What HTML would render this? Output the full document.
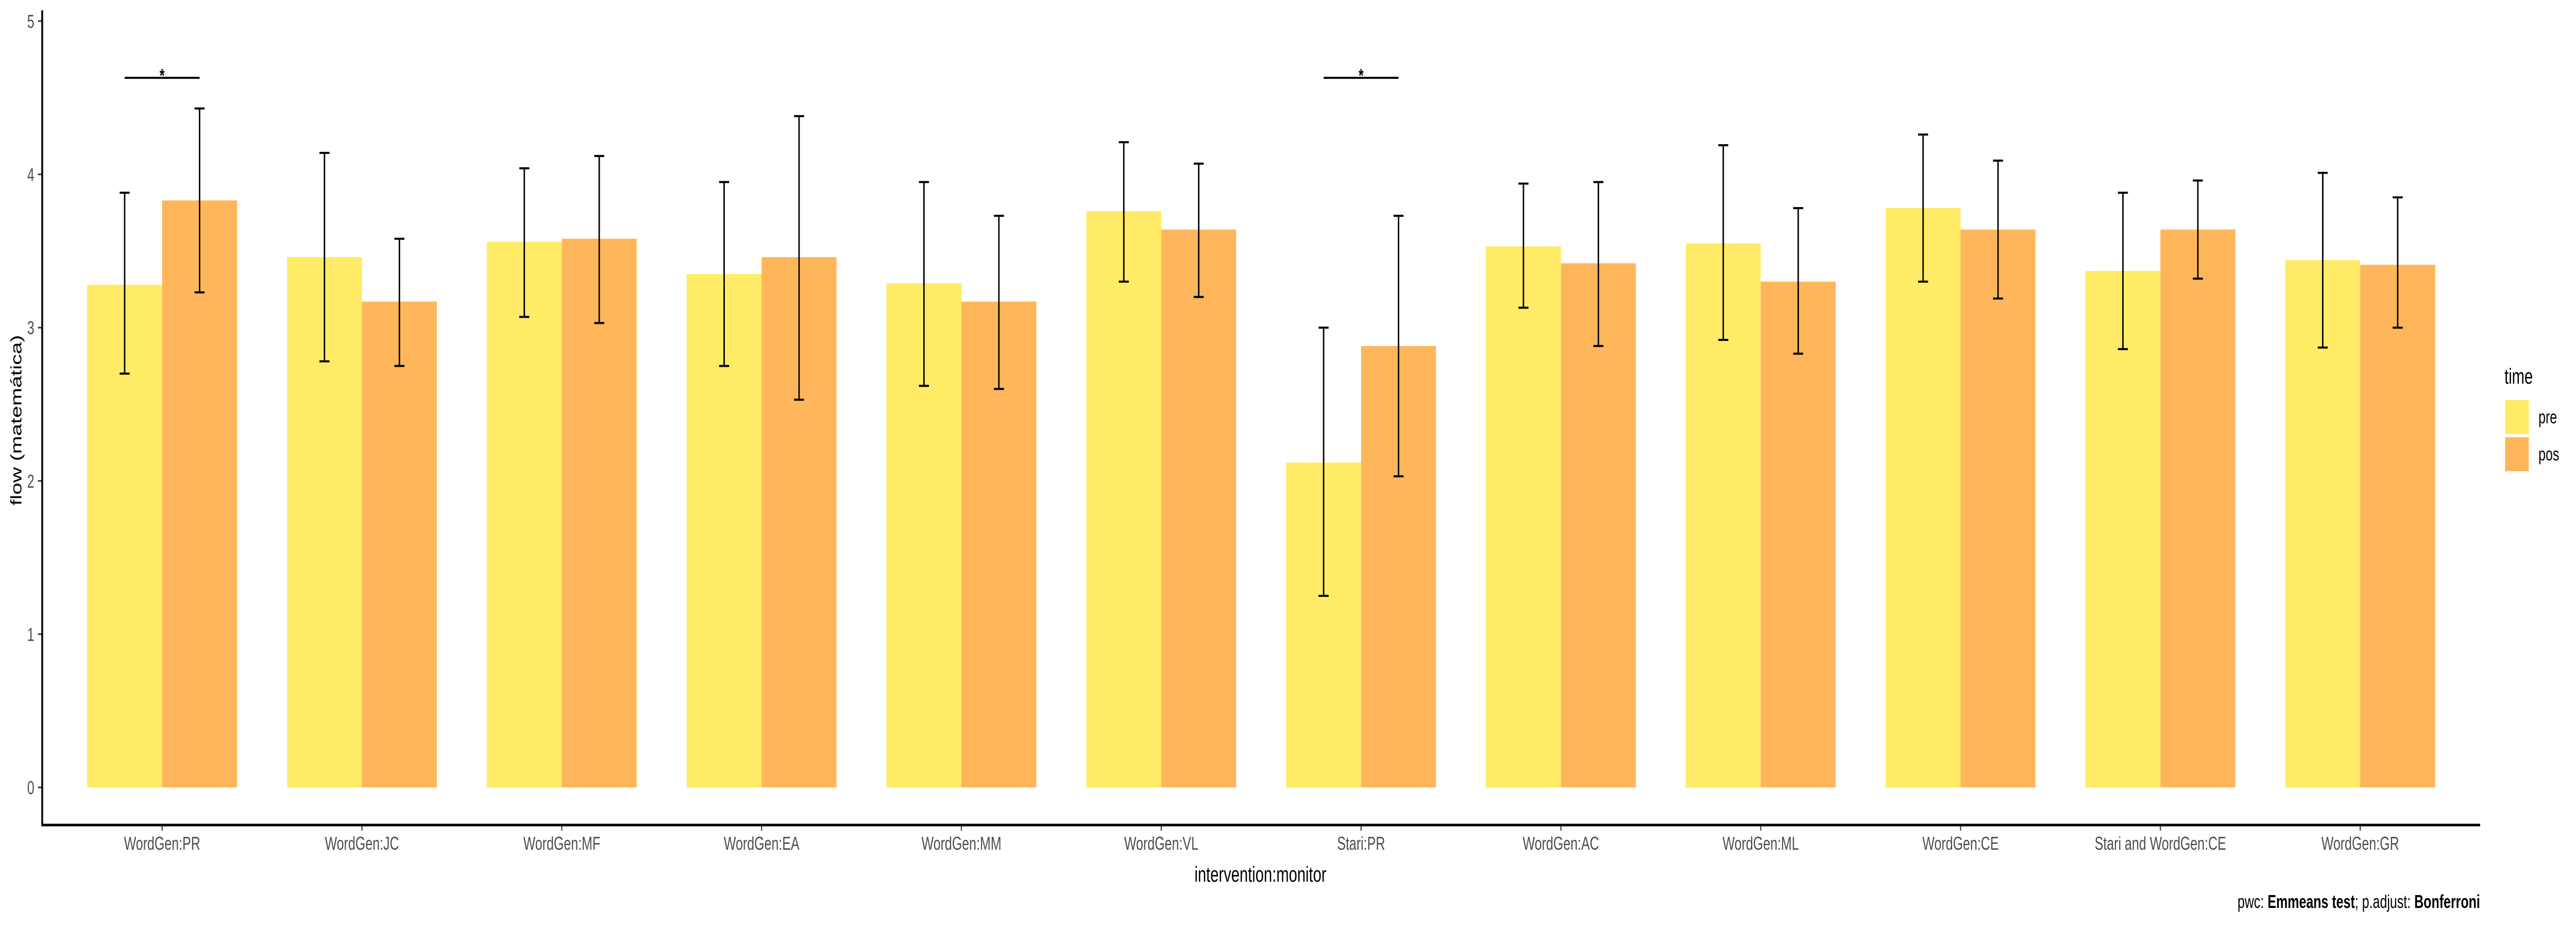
<!DOCTYPE html>
<html><head><meta charset="utf-8"><style>
html,body{margin:0;padding:0;background:#fff;width:100%;height:100%;overflow:hidden}
svg{display:block;font-family:"Liberation Sans",sans-serif;width:100vw;height:100vh}
</style></head><body>
<svg id="chart" viewBox="0 0 7200 1800" preserveAspectRatio="none" xmlns="http://www.w3.org/2000/svg">
<rect width="7200" height="1800" fill="#fff"/>
<g id="bars"></g>
<g id="errs"></g>
<g id="sig"></g>
<g id="axes"></g>
<text x="0" y="0" transform="translate(60,816) rotate(-90)" text-anchor="middle" font-size="42" fill="#000">flow (matemática)</text>
<text x="3523" y="1712" text-anchor="middle" font-size="42" fill="#000">intervention:monitor</text>
<g>
<text x="7000" y="745" font-size="42" fill="#000">time</text>
<rect x="7002" y="777" width="66" height="66" fill="#FFEB66"/>
<rect x="7002" y="849" width="66" height="66" fill="#FFB65A"/>
<text x="7095" y="822" font-size="36" fill="#000">pre</text>
<text x="7095" y="894" font-size="36" fill="#000">pos</text>
</g>
<text x="6932" y="1763" text-anchor="end" font-size="36" fill="#000">pwc: <tspan font-weight="bold">Emmeans test</tspan>; p.adjust: <tspan font-weight="bold">Bonferroni</tspan></text>
</svg>
<script>
const categories = ["WordGen:PR","WordGen:JC","WordGen:MF","WordGen:EA","WordGen:MM","WordGen:VL","Stari:PR","WordGen:AC","WordGen:ML","WordGen:CE","Stari and WordGen:CE","WordGen:GR"];
const preValues = [3.28,3.46,3.56,3.35,3.29,3.76,2.12,3.53,3.55,3.78,3.37,3.44];
const preLow    = [2.70,2.78,3.07,2.75,2.62,3.30,1.25,3.13,2.92,3.30,2.86,2.87];
const preHigh   = [3.88,4.14,4.04,3.95,3.95,4.21,3.00,3.94,4.19,4.26,3.88,4.01];
const posValues = [3.83,3.17,3.58,3.46,3.17,3.64,2.88,3.42,3.30,3.64,3.64,3.41];
const posLow    = [3.23,2.75,3.03,2.53,2.60,3.20,2.03,2.88,2.83,3.19,3.32,3.00];
const posHigh   = [4.43,3.58,4.12,4.38,3.73,4.07,3.73,3.95,3.78,4.09,3.96,3.85];
const yTicks = [0,1,2,3,4,5];
const sigCategories = [0,6];
const sigLevel = 4.63;

const NS="http://www.w3.org/2000/svg";
const PL=118, PR=6932, AXY=1602;
const unit=(PR-PL)/(categories.length-1+1.2);
function xScale(i){return PL+(i+0.6)*unit;}
function yScale(v){return 1529-v*297.6;}
const bw=0.375*unit;
function mk(tag,attrs,parent){const e=document.createElementNS(NS,tag);for(const k in attrs)e.setAttribute(k,attrs[k]);parent.appendChild(e);return e;}
const gB=document.getElementById('bars'),gE=document.getElementById('errs'),gS=document.getElementById('sig'),gA=document.getElementById('axes');
const series=[{v:preValues,lo:preLow,hi:preHigh,c:"#FFEB66",n:"pre",off:-1},{v:posValues,lo:posLow,hi:posHigh,c:"#FFB65A",n:"pos",off:0}];
categories.forEach((cat,i)=>{
  const cx=xScale(i);
  series.forEach(s=>{
    const x=cx+s.off*bw, y=yScale(s.v[i]);
    const r=mk('rect',{x:x,y:y,width:bw,height:yScale(0)-y,fill:s.c},gB);
    
    
    const ex=x+bw/2, y1=yScale(s.hi[i]), y2=yScale(s.lo[i]);
    const g=mk('g',{stroke:"#000","stroke-width":4},gE);
    
    
    mk('line',{x1:ex,x2:ex,y1:y1,y2:y2},g);
    mk('line',{x1:ex-14,x2:ex+14,y1:y1,y2:y1},g);
    mk('line',{x1:ex-14,x2:ex+14,y1:y2,y2:y2},g);
  });
  const t=mk('line',{x1:cx,x2:cx,y1:AXY,y2:AXY+11,stroke:"#333","stroke-width":3},gA);
  
  
  const lb=mk('text',{x:cx,y:1650,"text-anchor":"middle","font-size":36,fill:"#4D4D4D"},gA);
  lb.textContent=cat;
  
  
});
sigCategories.forEach(i=>{
  const cx=xScale(i), y=yScale(sigLevel);
  const l=mk('line',{x1:cx-bw/2,x2:cx+bw/2,y1:y,y2:y,stroke:"#000","stroke-width":4},gS);
  
  
  const st=mk('text',{x:cx,y:y+8,"text-anchor":"middle","font-size":36,"font-weight":"bold",fill:"#000"},gS);
  st.textContent="*";
  
  
});
yTicks.forEach(v=>{
  const y=yScale(v);
  const t=mk('line',{x1:PL-12,x2:PL,y1:y,y2:y,stroke:"#333","stroke-width":3},gA);
  
  
  const lb=mk('text',{x:PL-22,y:y+13,"text-anchor":"end","font-size":36,fill:"#4D4D4D"},gA);
  lb.textContent=String(v);
  
  
});
const ya=mk('line',{x1:PL,x2:PL,y1:20,y2:AXY+2,stroke:"#000","stroke-width":5},gA);


const xa=mk('line',{x1:PL-2,x2:PR,y1:AXY,y2:AXY,stroke:"#000","stroke-width":5},gA);


</script>
</body></html>
